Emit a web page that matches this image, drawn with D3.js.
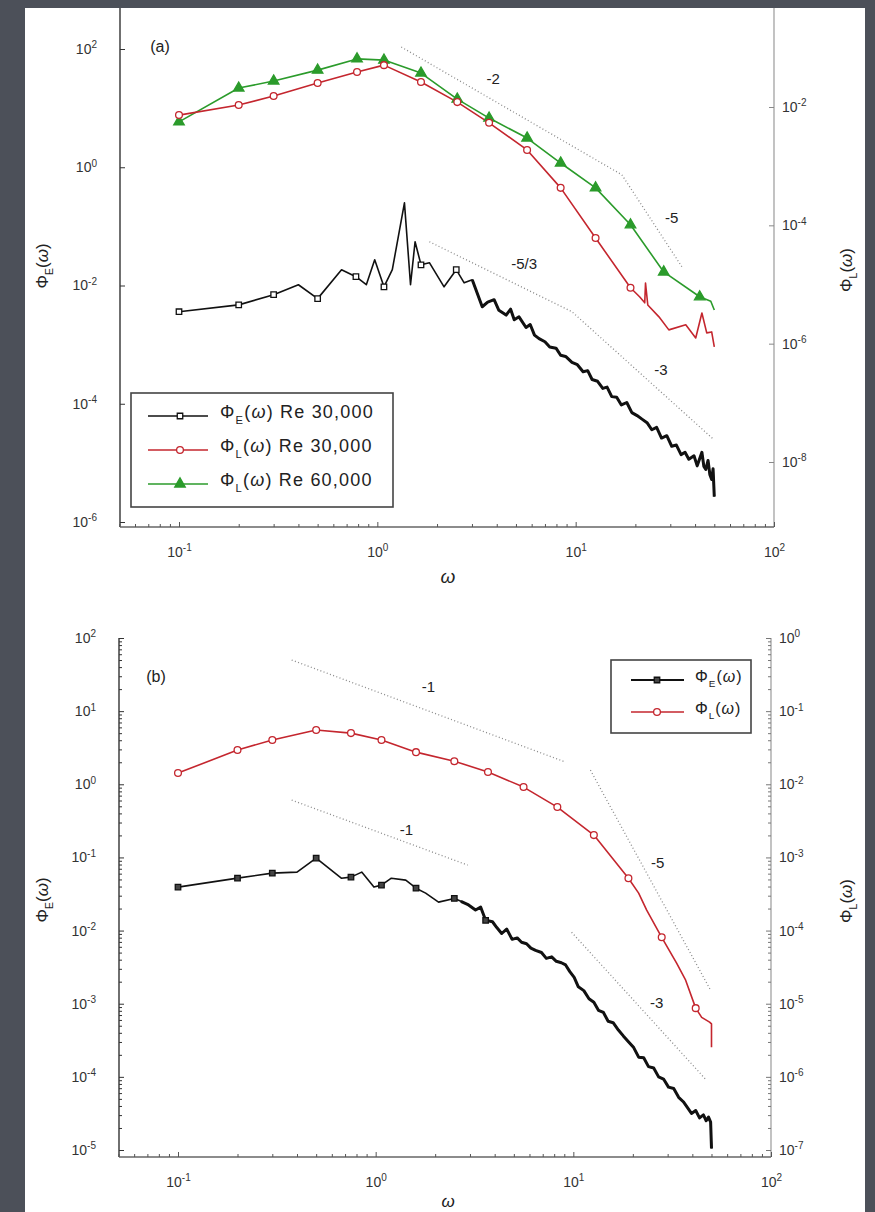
<!DOCTYPE html>
<html lang="en">
<head>
<meta charset="UTF-8">
<title>Eulerian and Lagrangian frequency spectra</title>
<script src="https://d3js.org/d3.v7.min.js"></script>
<style>
  body { margin: 0; background: #4c5059; }
  svg { display: block; font-family: "Liberation Sans", Arial, sans-serif; }
</style>
</head>
<body>
<svg width="875" height="1212"></svg>
<script>
// ---------- panel (a) data ----------
// Phi_E, Re 30,000 (left axis)
const omegaA_E = [0.1, 0.2, 0.3, 0.4, 0.5, 0.66, 0.78, 0.88, 0.97, 1.08, 1.19, 1.37, 1.47, 1.55, 1.66, 1.83, 2.17, 2.5, 2.74, 3.01,
  3.38, 3.6, 3.88, 4.1, 4.46, 4.7, 4.9, 5.18, 5.62, 5.9, 6.2, 6.54, 7.0, 7.4, 7.96, 8.4, 8.9, 9.58, 10.2, 10.9,
  11.5, 12.1, 12.9, 13.7, 14.4, 15.2, 16.1, 17.0, 18.1, 19.2, 20.4, 21.6, 22.9, 24.2, 25.6, 27.1, 28.8, 30.5, 32.2, 34.0,
  35.6, 37.2, 39.5, 41.0, 43.3, 44.3, 45.3, 46.5, 47.5, 48.5, 49.3, 50];
const phiA_E = [3.6e-3, 4.7e-3, 7.0e-3, 1.03e-2, 6.0e-3, 1.85e-2, 1.41e-2, 1.03e-2, 2.73e-2, 9.5e-3, 1.85e-2, 0.25, 1.03e-2, 5.5e-2, 2.24e-2, 2.43e-2, 9.5e-3, 1.85e-2, 1.11e-2, 1.25e-2,
  4.37e-3, 5.25e-3, 5.75e-3, 3.80e-3, 3.16e-3, 3.98e-3, 2.63e-3, 2.95e-3, 1.95e-3, 2.19e-3, 1.45e-3, 1.26e-3, 1.12e-3, 9.12e-4, 8.71e-4, 6.61e-4, 6.31e-4, 5.01e-4, 4.57e-4, 3.47e-4,
  3.63e-4, 2.57e-4, 2.40e-4, 1.82e-4, 1.91e-4, 1.32e-4, 1.29e-4, 9.55e-5, 1.05e-4, 7.08e-5, 6.31e-5, 5.50e-5, 4.79e-5, 3.63e-5, 3.98e-5, 2.63e-5, 2.88e-5, 1.91e-5, 2.0e-5, 1.38e-5,
  1.51e-5, 1.15e-5, 1.32e-5, 8.91e-6, 1.51e-5, 8.71e-6, 7.76e-6, 1.10e-5, 6.31e-6, 5.25e-6, 7.94e-6, 2.69e-6];
const markOmegaA_E = [0.1, 0.2, 0.3, 0.5, 0.78, 1.08, 1.66, 2.5];
const markPhiA_E = [3.6e-3, 4.7e-3, 7.0e-3, 6.0e-3, 1.41e-2, 9.5e-3, 2.24e-2, 1.85e-2];

// Phi_L, Re 30,000 (right axis)
const omegaA_L30 = [0.1, 0.2, 0.3, 0.5, 0.79, 1.08, 1.66, 2.53, 3.66, 5.69, 8.4, 12.6, 18.9,
  21, 22.3, 22.5, 23.1, 26.3, 29.5, 35.9, 40.3, 43.3, 45.8, 48.5, 50];
const phiA_L30 = [7.3e-3, 1.08e-2, 1.53e-2, 2.54e-2, 3.9e-2, 5.1e-2, 2.64e-2, 1.21e-2, 5.4e-3, 1.88e-3, 4.3e-4, 6.1e-5, 8.8e-6,
  6.2e-6, 4.9e-6, 1.06e-5, 4.5e-6, 2.84e-6, 1.71e-6, 2.08e-6, 1.25e-6, 3.3e-6, 1.52e-6, 1.58e-6, 8.8e-7];
const nMarkA_L30 = 13;

// Phi_L, Re 60,000 (right axis)
const omegaA_L60 = [0.1, 0.2, 0.3, 0.5, 0.79, 1.08, 1.66, 2.53, 3.66, 5.69, 8.4, 12.6, 18.9, 27.8, 42.2, 48, 50];
const phiA_L60 = [5.6e-3, 2.09e-2, 2.75e-2, 4.2e-2, 6.5e-2, 6.2e-2, 3.75e-2, 1.36e-2, 6.5e-3, 2.99e-3, 1.13e-3, 4.3e-4, 1.02e-4, 1.63e-5, 6.2e-6, 5.2e-6, 3.7e-6];
const nMarkA_L60 = 15;

// slope guides (left-axis units)
const guideA1 = [[1.32, 108], [17.1, 0.745], [34.3, 0.0208]];
const guideA2 = [[1.83, 0.055], [9.58, 3.6e-3], [49.7, 2.48e-5]];
const slopeTextA = ["-2", "-5", "-5/3", "-3"];
const slopeAtA = [[3.84, 31], [30.5, 0.14], [5.5, 0.0233], [26.9, 3.8e-4]];

// ---------- panel (b) data ----------
const omegaB_E = [0.1, 0.2, 0.3, 0.4, 0.5, 0.67, 0.75, 0.85, 0.98, 1.07, 1.2, 1.42, 1.6, 1.79, 2.08, 2.5,
  2.7, 2.95, 3.2, 3.4, 3.6, 3.9, 4.1, 4.34, 4.6, 4.9, 5.2, 5.47, 5.8, 6.1, 6.44, 6.9, 7.3, 7.77, 8.2, 8.7, 9.14,
  9.6, 10.1, 10.6, 11.3, 12.0, 12.7, 13.4, 14.2, 15.0, 15.9, 16.9, 17.9, 19.0, 20.2, 21.4, 22.7, 24.0, 25.5,
  27.0, 28.6, 30.3, 32.2, 34.1, 36.0, 37.8, 39.6, 41.6, 43.5, 45.5, 47.0, 48.3, 49.5, 50];
const phiB_E = [0.0393, 0.0521, 0.061, 0.063, 0.098, 0.052, 0.0538, 0.063, 0.0393, 0.0418, 0.052, 0.0489, 0.038, 0.0325, 0.0245, 0.0275,
  0.0251, 0.0224, 0.0191, 0.0209, 0.0138, 0.0132, 0.0110, 9.12e-3, 0.0105, 7.59e-3, 7.94e-3, 6.92e-3, 6.61e-3, 5.75e-3, 5.37e-3, 5.01e-3, 4.17e-3, 4.37e-3, 3.80e-3, 3.63e-3, 3.39e-3,
  2.75e-3, 2.29e-3, 1.70e-3, 1.51e-3, 1.17e-3, 1.05e-3, 8.13e-4, 7.59e-4, 5.75e-4, 5.50e-4, 4.37e-4, 3.63e-4, 3.02e-4, 2.51e-4, 1.86e-4, 1.82e-4, 1.38e-4, 1.32e-4,
  1.0e-4, 9.33e-5, 7.24e-5, 6.92e-5, 5.25e-5, 4.57e-5, 3.80e-5, 3.16e-5, 3.47e-5, 2.75e-5, 3.02e-5, 2.51e-5, 2.82e-5, 2.40e-5, 1.05e-5];
const markOmegaB_E = [0.1, 0.2, 0.3, 0.5, 0.75, 1.07, 1.6, 2.5, 3.6];
const markPhiB_E = [0.0393, 0.0521, 0.061, 0.098, 0.0538, 0.0418, 0.038, 0.0275, 0.0138];

const omegaB_L = [0.1, 0.2, 0.3, 0.5, 0.75, 1.07, 1.6, 2.5, 3.7, 5.6, 8.3, 12.7, 19, 21.4, 23.5, 28, 33.3, 37, 41.6, 44.6, 48.9, 50, 50];
const phiB_L = [0.01423, 0.0294, 0.0403, 0.0551, 0.0501, 0.0403, 0.0275, 0.0207, 0.0147, 9.16e-3, 4.88e-3, 2.02e-3, 5.2e-4, 3.25e-4, 1.9e-4, 8.1e-5, 3.58e-5, 2.1e-5, 8.7e-6, 6.5e-6, 5.6e-6, 5.3e-6, 2.54e-6];
const markIdxB_L = [0, 1, 2, 3, 4, 5, 6, 7, 8, 9, 10, 11, 12, 15, 18];

const guideB = [
  [[0.376, 50], [9.14, 2.01]],
  [[12.2, 1.56], [49.5, 1.53e-3]],
  [[0.376, 0.608], [2.92, 0.0785]],
  [[9.8, 9.5e-3], [47.2, 8.97e-5]]
];
const slopeTextB = ["-1", "-1", "-5", "-3"];
const slopeAtB = [[1.85, 21.4], [1.43, 0.236], [26.7, 0.0836], [26.4, 1.02e-3]];

// ---------- drawing ----------
const svg = d3.select("svg");
const RED = "#c4262e", GREEN = "#2b9b2b", BLACK = "#111";

svg.append("rect").attr("x", 25).attr("y", 8).attr("width", 840).attr("height", 1210).attr("fill", "#fff");

function minorTicks(lo, hi) {
  const out = [];
  for (let e = lo; e < hi; e++) for (let m = 2; m <= 9; m++) out.push(m * Math.pow(10, e));
  return out;
}

function yAxis(scale, x, right, majors, labelled, minors, color) {
  const mk = right ? d3.axisRight : d3.axisLeft;
  const g = svg.append("g").attr("transform", `translate(${x},0)`);
  if (minors.length) g.append("g").call(mk(scale).tickValues(minors).tickSize(-3).tickFormat(""));
  const gm = g.append("g").call(mk(scale).tickValues(majors).tickSize(-5).tickPadding(right ? 8 : 23)
    .tickFormat(d => labelled.includes(Math.round(Math.log10(d))) ? "10" : ""));
  g.selectAll(".domain").remove();
  g.selectAll("line").attr("stroke", color).attr("stroke-width", 1);
  gm.attr("font-size", 14).attr("font-family", null);
  gm.selectAll(".tick text").attr("fill", "#333").each(function (d) {
    const e = Math.round(Math.log10(d));
    if (labelled.includes(e)) d3.select(this).append("tspan").attr("dy", "-0.55em").attr("font-size", 10).text(e);
  });
}

function xAxis(scale, y, minors, color) {
  const g = svg.append("g").attr("transform", `translate(0,${y})`);
  g.append("g").call(d3.axisBottom(scale).tickValues(minors).tickSize(-3).tickFormat(""));
  const gm = g.append("g").call(d3.axisBottom(scale).tickValues([0.1, 1, 10, 100]).tickSize(-5).tickPadding(20).tickFormat(() => "10"));
  g.selectAll(".domain").remove();
  g.selectAll("line").attr("stroke", color);
  gm.attr("font-size", 14).attr("font-family", null);
  gm.selectAll(".tick text").attr("fill", "#333").each(function (d) {
    d3.select(this).append("tspan").attr("dy", "-0.55em").attr("font-size", 10).text(Math.round(Math.log10(d)));
  });
}

function phiText(t, sub, size) {
  t.append("tspan").text("Φ");
  t.append("tspan").attr("font-size", size * 0.62).attr("dy", size * 0.32).text(sub);
  t.append("tspan").attr("dy", -size * 0.32).text("(");
  t.append("tspan").attr("font-style", "italic").text("ω");
  t.append("tspan").text(")");
}

function rotTitle(x, y, sub) {
  const t = svg.append("text").attr("transform", `translate(${x},${y}) rotate(-90)`)
    .attr("text-anchor", "middle").attr("dy", "0.35em").attr("font-size", 17).attr("fill", "#222");
  phiText(t, sub, 17);
}

function frame(x0, x1, yTop, yBot, rightColor) {
  svg.append("line").attr("x1", x0).attr("x2", x0).attr("y1", yTop).attr("y2", yBot).attr("stroke", "#333").attr("stroke-width", 1.4);
  svg.append("line").attr("x1", x1).attr("x2", x1).attr("y1", yTop).attr("y2", yBot).attr("stroke", rightColor).attr("stroke-width", 1.2);
  svg.append("line").attr("x1", x0).attr("x2", x1).attr("y1", yBot).attr("y2", yBot).attr("stroke", "#666").attr("stroke-width", 1.4);
}

function series(x, y, om, ph, color, width) {
  const line = d3.line().x(d => x(d[0])).y(d => y(d[1]));
  svg.append("path").datum(d3.zip(om, ph)).attr("d", line)
    .attr("fill", "none").attr("stroke", color).attr("stroke-width", width).attr("stroke-linejoin", "round");
}

// the measured Eulerian spectra are dense and noisy above omega ~ 3: draw that stretch as a thicker band
function noisySpectrum(x, y, om, ph, from) {
  series(x, y, om, ph, BLACK, 1.6);
  const pts = d3.zip(om, ph).filter(d => d[0] >= from);
  series(x, y, pts.map(d => d[0]), pts.map(d => d[1]), BLACK, 3);
}

const symSquare = d3.symbol().type(d3.symbolSquare).size(30);
const symCircle = d3.symbol().type(d3.symbolCircle).size(36);
const symTri = d3.symbol().type(d3.symbolTriangle).size(48);

function markers(x, y, om, ph, sym, stroke, fill) {
  svg.append("g").selectAll("path").data(d3.zip(om, ph)).join("path")
    .attr("transform", d => `translate(${x(d[0])},${y(d[1])})`)
    .attr("d", sym).attr("fill", fill).attr("stroke", stroke).attr("stroke-width", 1.3);
}

function guides(x, y, lines) {
  const line = d3.line().x(d => x(d[0])).y(d => y(d[1]));
  lines.forEach(pts => svg.append("path").datum(pts).attr("d", line).attr("fill", "none")
    .attr("stroke", "#8a8a8a").attr("stroke-width", 1.3).attr("stroke-dasharray", "1,2.4"));
}

function slopeLabels(x, y, texts, at) {
  texts.forEach((s, i) => svg.append("text").attr("x", x(at[i][0])).attr("y", y(at[i][1])).attr("dy", "0.35em")
    .attr("text-anchor", "middle").attr("font-size", 15).attr("fill", "#222").text(s));
}

// ===== panel (a) =====
const xA = d3.scaleLog().domain([0.1, 100]).range([179, 774]);
const yA = d3.scaleLog().domain([1e-6, 1e2]).range([522, 49]);
const yA2 = d3.scaleLog().domain([1e-8, 1e-2]).range([462, 107]);

frame(120, 774, 8, 527, "#9a9a9a");
xAxis(xA, 527, minorTicks(-2, 2).filter(v => v >= 0.05 && v < 100), "#555");
yAxis(yA, 120, false, [1e-6, 1e-4, 1e-2, 1, 1e2], [-6, -4, -2, 0, 2], [], "#333");
yAxis(yA2, 774, true, [1e-8, 1e-6, 1e-4, 1e-2], [-8, -6, -4, -2], [], "#888");

guides(xA, yA, [guideA1, guideA2]);
slopeLabels(xA, yA, slopeTextA, slopeAtA);

series(xA, yA2, omegaA_L60, phiA_L60, GREEN, 1.6);
series(xA, yA2, omegaA_L30, phiA_L30, RED, 1.6);
noisySpectrum(xA, yA, omegaA_E, phiA_E, 3);
markers(xA, yA2, omegaA_L60.slice(0, nMarkA_L60), phiA_L60.slice(0, nMarkA_L60), symTri, GREEN, GREEN);
markers(xA, yA2, omegaA_L30.slice(0, nMarkA_L30), phiA_L30.slice(0, nMarkA_L30), symCircle, RED, "#fff");
markers(xA, yA, markOmegaA_E, markPhiA_E, symSquare, BLACK, "#fff");

svg.append("text").attr("x", 160).attr("y", 46).attr("dy", "0.35em").attr("text-anchor", "middle")
  .attr("font-size", 16).attr("fill", "#222").text("(a)");
svg.append("text").attr("x", 448).attr("y", 576).attr("dy", "0.35em").attr("text-anchor", "middle")
  .attr("font-size", 19).attr("font-style", "italic").attr("fill", "#222").text("ω");
rotTitle(42, 266, "E");
rotTitle(846, 270, "L");

// legend (a)
const legA = svg.append("g");
legA.append("rect").attr("x", 131).attr("y", 393).attr("width", 262).attr("height", 114)
  .attr("fill", "#fff").attr("stroke", "#444").attr("stroke-width", 1.6);
[["E", " Re 30,000", BLACK, symSquare, "#fff"], ["L", " Re 30,000", RED, symCircle, "#fff"], ["L", " Re 60,000", GREEN, symTri, GREEN]]
  .forEach((e, i) => {
    const ly = 416 + i * 34;
    legA.append("line").attr("x1", 148).attr("x2", 208).attr("y1", ly).attr("y2", ly).attr("stroke", e[2]).attr("stroke-width", 1.6);
    legA.append("path").attr("transform", `translate(180,${ly})`).attr("d", e[3]).attr("fill", e[4]).attr("stroke", e[2]).attr("stroke-width", 1.3);
    const t = legA.append("text").attr("x", 220).attr("y", ly).attr("dy", "0.1em").attr("font-size", 18)
      .attr("letter-spacing", 1.2).attr("fill", "#222");
    phiText(t, e[0], 18);
    t.append("tspan").text(e[1]);
  });

// ===== panel (b) =====
const xB = d3.scaleLog().domain([0.1, 100]).range([178, 771]);
const yB = d3.scaleLog().domain([1e-5, 1e2]).range([1150, 638]);
const yB2 = d3.scaleLog().domain([1e-7, 1]).range([1150, 638]);

frame(119, 771, 638, 1157, "#9a9a9a");
xAxis(xB, 1157, minorTicks(-2, 2).filter(v => v >= 0.05 && v < 100), "#555");
yAxis(yB, 119, false, [1e-5, 1e-4, 1e-3, 1e-2, 1e-1, 1, 10, 100], [-5, -4, -3, -2, -1, 0, 1, 2], minorTicks(-5, 2), "#333");
yAxis(yB2, 771, true, [1e-7, 1e-6, 1e-5, 1e-4, 1e-3, 1e-2, 1e-1, 1], [-7, -6, -5, -4, -3, -2, -1, 0], minorTicks(-7, 0), "#777");

guides(xB, yB, guideB);
slopeLabels(xB, yB, slopeTextB, slopeAtB);

series(xB, yB2, omegaB_L, phiB_L, RED, 1.6);
noisySpectrum(xB, yB, omegaB_E, phiB_E, 2.7);
markers(xB, yB2, markIdxB_L.map(i => omegaB_L[i]), markIdxB_L.map(i => phiB_L[i]), symCircle, RED, "#fff");
markers(xB, yB, markOmegaB_E, markPhiB_E, symSquare, BLACK, "#444");

svg.append("text").attr("x", 156).attr("y", 676).attr("dy", "0.35em").attr("text-anchor", "middle")
  .attr("font-size", 16).attr("fill", "#222").text("(b)");
svg.append("text").attr("x", 448).attr("y", 1201).attr("dy", "0.35em").attr("text-anchor", "middle")
  .attr("font-size", 17).attr("font-style", "italic").attr("fill", "#222").text("ω");
rotTitle(42, 900, "E");
rotTitle(846, 901, "L");

// legend (b)
const legB = svg.append("g");
legB.append("rect").attr("x", 611).attr("y", 660).attr("width", 140).attr("height", 73)
  .attr("fill", "#fff").attr("stroke", "#444").attr("stroke-width", 1.6);
[["E", BLACK, symSquare, "#444", 2.2], ["L", RED, symCircle, "#fff", 1.4]].forEach((e, i) => {
  const ly = 680 + i * 32;
  legB.append("line").attr("x1", 631).attr("x2", 684).attr("y1", ly).attr("y2", ly).attr("stroke", e[1]).attr("stroke-width", e[4]);
  legB.append("path").attr("transform", `translate(657,${ly})`).attr("d", e[2]).attr("fill", e[3]).attr("stroke", e[1]).attr("stroke-width", 1.3);
  const t = legB.append("text").attr("x", 695).attr("y", ly).attr("dy", "0.1em").attr("font-size", 16)
    .attr("letter-spacing", 1).attr("fill", "#222");
  phiText(t, e[0], 16);
});
</script>
</body>
</html>
